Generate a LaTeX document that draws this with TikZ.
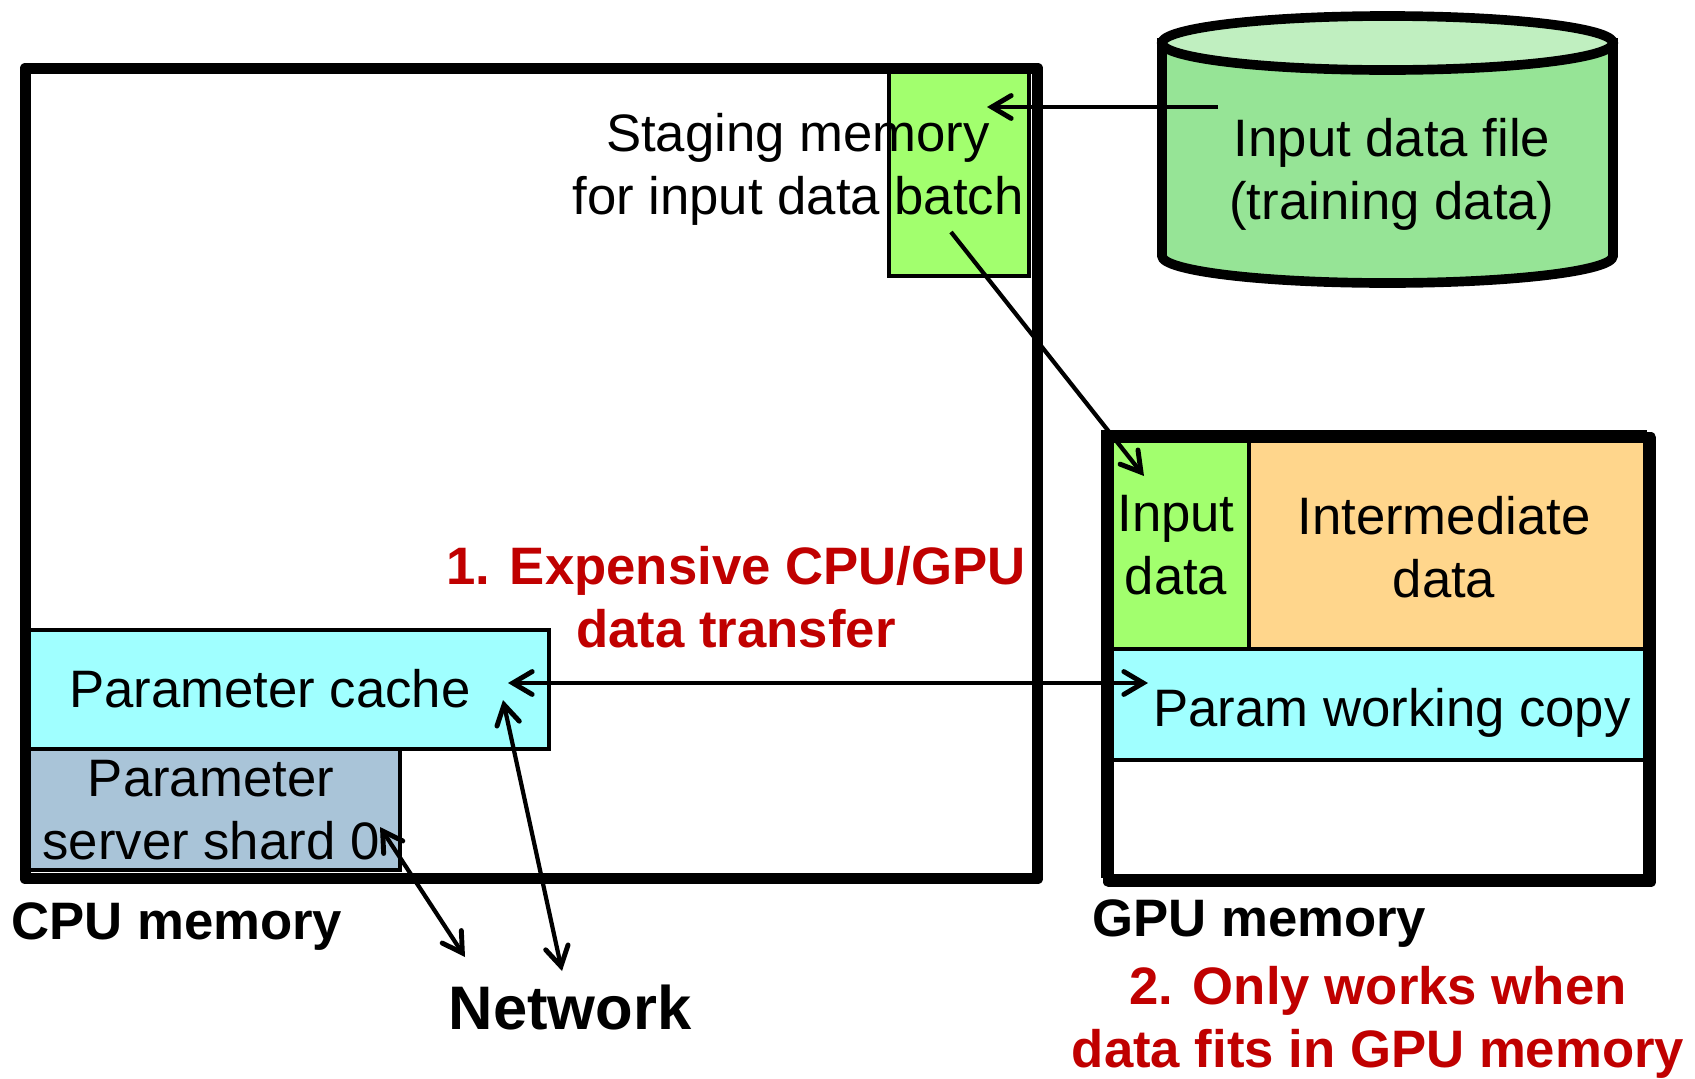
\documentclass[tikz,border=0pt]{standalone}
\usepackage{fontspec}
\setmainfont{Liberation Sans}
\usetikzlibrary{arrows.meta}
\definecolor{stagegreen}{HTML}{A2FF6E}
\definecolor{paramcyan}{HTML}{A0FFFF}
\definecolor{interorange}{HTML}{FFD68C}
\definecolor{shardblue}{HTML}{A9C4D8}
\definecolor{filebody}{HTML}{96E496}
\definecolor{filetop}{HTML}{C0EFC0}
\definecolor{alertred}{HTML}{C00000}
\begin{document}
\begin{tikzpicture}[x=0.02cm,y=-0.02cm,
  txt/.style={font=\fontsize{30}{36}\selectfont, align=center, inner sep=0pt},
  bold/.style={font=\fontsize{30}{36}\selectfont\bfseries, align=center, inner sep=0pt},
  alert/.style={bold, text=alertred},
  outer/.style={draw=black, line width=6.5pt, line join=round},
  inner/.style={draw=black, line width=2.4pt},
  barb/.style={Straight Barb[length=11pt,width=13pt,line width=2.8pt,line cap=round]},
  flow/.style={line width=2.4pt, -{Straight Barb[length=11pt,width=13pt,line width=2.8pt,line cap=round]}},
  flowboth/.style={line width=2.4pt, {Straight Barb[length=11pt,width=13pt,line width=2.8pt,line cap=round]}-{Straight Barb[length=11pt,width=13pt,line width=2.8pt,line cap=round]}}]
\useasboundingbox (0,0) rectangle (1695,1079);

% CPU memory region
\fill[white] (19.5,62.7) rectangle (1032,873);
\draw[inner, fill=stagegreen] (889,65) rectangle (1029,276);
\draw[inner, fill=paramcyan] (22,630) rectangle (549,749);
\draw[inner, fill=shardblue] (22,749) rectangle (400,870);
\node[outer, minimum width=1012.5*0.02cm, minimum height=810.3*0.02cm, anchor=north west, inner sep=0pt]
  (cpu) at (19.5,62.7) {};

\node[txt] (staging) at (798,169) {Staging memory\\for input data batch};
\node[txt] (pcache) at (270,689) {Parameter cache};
\node[txt] (shard) at (211,810) {Parameter\\server shard 0};
\node[bold, anchor=west] (cpulabel) at (11,927) {CPU memory};

% input data file (cylinder)
\draw[line width=5.5pt, fill=filebody] (1162,43) -- (1162,256)
  arc[start angle=180, end angle=360, x radius=225.5, y radius=-27] -- (1613,43) -- cycle;
\draw[line width=5.5pt, fill=filetop] (1387.5,43) ellipse [x radius=225.5, y radius=27];
\node[txt] (file) at (1392,174) {Input data file\\(training data)};

% GPU memory region
\draw[inner, fill=stagegreen] (1103,432) rectangle (1249,649);
\draw[inner, fill=interorange] (1249,432) rectangle (1645,649);
\draw[inner, fill=paramcyan] (1103,649) rectangle (1645,760);
\draw[inner, fill=white] (1103,760) rectangle (1645,876);
\node[outer, minimum width=542*0.02cm, minimum height=444*0.02cm, anchor=north west, inner sep=0pt]
  (gpu) at (1103,432) {};
\node[txt] (gin) at (1176,545) {Input\\data};
\node[txt] (ginter) at (1444,547) {Intermediate\\data};
\node[txt] (gparam) at (1392,713) {Param working copy};
\node[bold, anchor=west] (gpulabel) at (1092,924) {GPU memory};

% annotations
\node[alert] (note1) at (736,597) {1. Expensive CPU/GPU\\data transfer};
\node[alert] (note2) at (1378,1022) {2. Only works when\\data fits in GPU memory};
\node[font=\fontsize{35}{42}\selectfont\bfseries, inner sep=0pt] (net) at (570,1008) {Network};

% connector end points
\coordinate (fileout) at (1218,107);
\coordinate (stagein) at (987,107);
\coordinate (stageout) at (951,232);
\coordinate (ginput) at (1144,476);
\coordinate (pcacheR) at (508,683);
\coordinate (gparamL) at (1148,683);
\coordinate (pcacheB) at (503,700);
\coordinate (netR) at (562,971);
\coordinate (shardR) at (380,827);
\coordinate (netL) at (465,957);

\draw[flow] (fileout) -- (stagein);
\draw[flow] (stageout) -- (ginput);
\draw[flowboth] (pcacheR) -- (gparamL);
\draw[flowboth] (pcacheB) -- (netR);
\draw[flowboth] (shardR) -- (netL);
\end{tikzpicture}
\end{document}
